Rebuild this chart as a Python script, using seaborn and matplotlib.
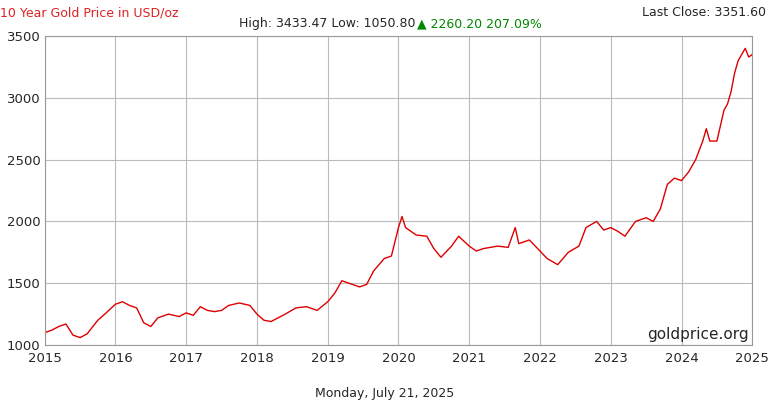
import pandas as pd
import matplotlib.pyplot as plt
import seaborn as sns

# positions in chart years (as labelled on the axis) and prices
years = [2015.0, 2015.1, 2015.2, 2015.3, 2015.4, 2015.5, 2015.6, 2015.75, 2015.85,
         2016.0, 2016.1, 2016.2, 2016.3, 2016.4, 2016.5, 2016.6, 2016.75, 2016.9,
         2017.0, 2017.1, 2017.2, 2017.3, 2017.4, 2017.5, 2017.6, 2017.75, 2017.9,
         2018.0, 2018.1, 2018.2, 2018.3, 2018.4, 2018.55, 2018.7, 2018.85,
         2019.0, 2019.1, 2019.2, 2019.3, 2019.45, 2019.55, 2019.65, 2019.8, 2019.9,
         2020.0, 2020.05, 2020.1, 2020.25, 2020.4, 2020.5, 2020.6, 2020.75, 2020.85,
         2021.0, 2021.1, 2021.2, 2021.4, 2021.55, 2021.65, 2021.7, 2021.85,
         2022.0, 2022.1, 2022.25, 2022.4, 2022.55, 2022.65, 2022.8, 2022.9,
         2023.0, 2023.1, 2023.2, 2023.35, 2023.5, 2023.6, 2023.7, 2023.8, 2023.9,
         2024.0, 2024.1, 2024.2, 2024.3, 2024.35, 2024.4, 2024.5, 2024.6, 2024.65,
         2024.7, 2024.75, 2024.8, 2024.85, 2024.9, 2024.95, 2025.0]
prices = [1100, 1120, 1150, 1170, 1080, 1060, 1090, 1200, 1250,
          1330, 1350, 1320, 1300, 1180, 1150, 1220, 1250, 1230,
          1260, 1240, 1310, 1280, 1270, 1280, 1320, 1340, 1320,
          1250, 1200, 1190, 1220, 1250, 1300, 1310, 1280,
          1350, 1420, 1520, 1500, 1470, 1490, 1600, 1700, 1720,
          1950, 2040, 1950, 1890, 1880, 1780, 1710, 1800, 1880,
          1800, 1760, 1780, 1800, 1790, 1950, 1820, 1850,
          1760, 1700, 1650, 1750, 1800, 1950, 2000, 1930,
          1950, 1920, 1880, 2000, 2030, 2000, 2100, 2300, 2350,
          2330, 2400, 2500, 2650, 2750, 2650, 2650, 2900, 2950,
          3050, 3200, 3300, 3350, 3400, 3330, 3350]
x_ticks = list(range(2015, 2026))
y_ticks = [1000, 1500, 2000, 2500, 3000, 3500]

df = pd.DataFrame({'year': years, 'price': prices})

sns.set_style('white')
plt.rcParams['font.family'] = ['DejaVu Sans']
fig = plt.figure(figsize=(7.7, 4), dpi=100)
ax = fig.add_axes([0.058, 0.1375, 0.919, 0.7725])
sns.lineplot(data=df, x='year', y='price', color='#dd0000', linewidth=1, ax=ax)
ax.set_xlim(2015, 2025)
ax.set_ylim(1000, 3500)
ax.set_xticks(x_ticks)
ax.set_yticks(y_ticks)
ax.grid(True, color='#bbbbbb', linewidth=0.8)
for s in ax.spines.values():
    s.set_color('#999999')
ax.tick_params(labelsize=9.5, length=0)
ax.tick_params(axis='x', pad=5)
ax.tick_params(axis='y', pad=3)
ax.set_xlabel('')
ax.set_ylabel('')

fig.text(0.0, 0.985, '10 Year Gold Price in USD/oz', color='#dd2222', fontsize=9, va='top')
fig.text(0.995, 0.985, 'Last Close: 3351.60', fontsize=9, ha='right', va='top')
fig.text(0.31, 0.94, 'High: 3433.47 Low: 1050.80 ', fontsize=9, va='center')
fig.text(0.542, 0.94, '\u25b2 2260.20 207.09%', fontsize=9, va='center', color='#008800')
ax.text(0.995, 0.01, 'goldprice.org', transform=ax.transAxes, ha='right', va='bottom', fontsize=11)
fig.text(0.5, 0.0, 'Monday, July 21, 2025', fontsize=9, ha='center', va='bottom')

fig.savefig('out.png', dpi=100)
